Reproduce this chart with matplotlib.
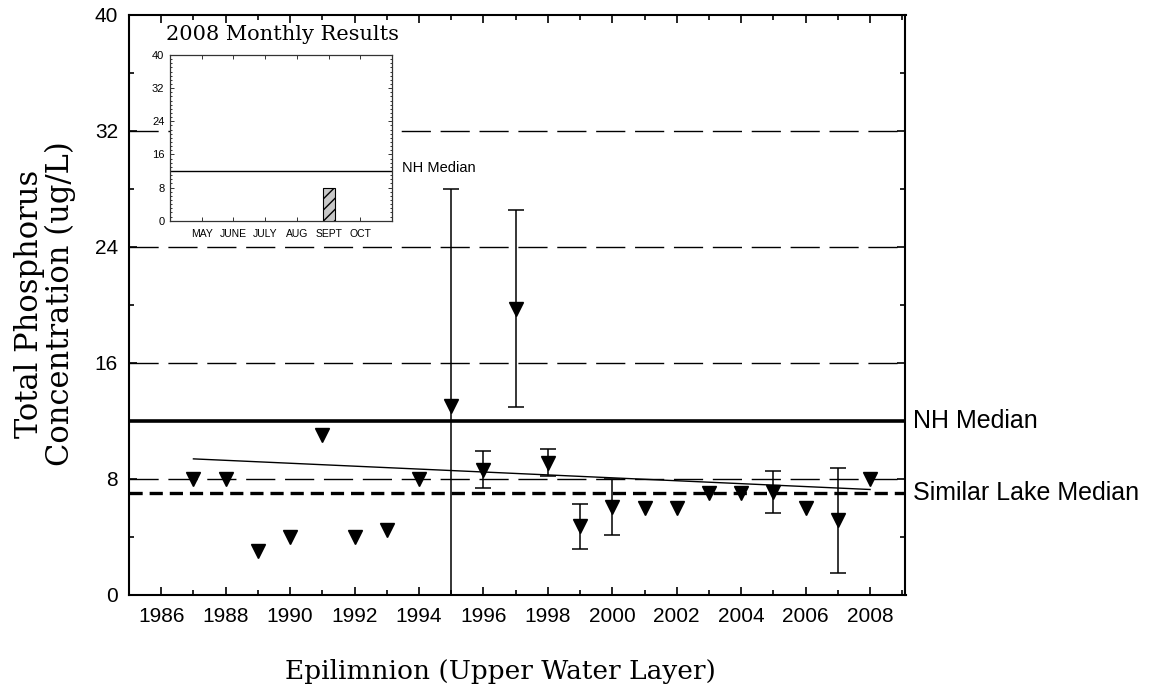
import matplotlib
matplotlib.use("Agg")
import matplotlib.pyplot as plt
from matplotlib.ticker import MultipleLocator
import numpy as np

plt.rcParams['lines.scale_dashes'] = False

# ---- data ----
years = [1987, 1988, 1989, 1990, 1991, 1992, 1993, 1994, 1995, 1996, 1997,
         1998, 1999, 2000, 2001, 2002, 2003, 2004, 2005, 2006, 2007, 2008]
tp = [8.0, 8.0, 3.0, 4.0, 11.0, 4.0, 4.5, 8.0, 13.0, 8.6, 19.7,
      9.1, 4.75, 6.05, 6.0, 6.0, 7.0, 7.0, 7.1, 6.0, 5.15, 8.0]

err_years = [1995, 1996, 1997, 1998, 1999, 2000, 2005, 2007]
err_center = [13.0, 8.6, 19.7, 9.1, 4.75, 6.05, 7.1, 5.15]
err_low = [-2.0, 7.35, 12.95, 8.2, 3.2, 4.1, 5.65, 1.55]
err_high = [28.0, 9.9, 26.55, 10.05, 6.3, 8.0, 8.55, 8.75]

trend_years = [1987, 2008]
trend_vals = [9.38, 7.27]

nh_median = 12.0
similar_median = 7.0
ref_lines = [8, 16, 24, 32]

months = ["MAY", "JUNE", "JULY", "AUG", "SEPT", "OCT"]
month_vals = [np.nan, np.nan, np.nan, np.nan, 8.0, np.nan]

xtick_years = list(range(1986, 2009, 2))
ytick_vals = [0, 8, 16, 24, 32, 40]

# ---- figure ----
fig = plt.figure(figsize=(11.54, 6.90), dpi=100)
W, H = 1154, 690
L, R, T, B = 129, 905.5, 14.5, 595
ax = fig.add_axes([L / W, 1 - B / H, (R - L) / W, (B - T) / H])

ax.set_xlim(1985, 2009.1)
ax.set_ylim(0, 40)

for v in ref_lines:
    ax.axhline(v, color='black', lw=1.0, ls=(0, (21, 7)), zorder=1)
ax.axhline(nh_median, color='black', lw=2.6, zorder=2)
ax.axhline(similar_median, color='black', lw=2.4, ls=(0, (9.5, 5)), zorder=2)

ax.plot(trend_years, trend_vals, color='black', lw=1.0, zorder=3)

yerr = [np.array(err_center) - np.array(err_low),
        np.array(err_high) - np.array(err_center)]
ax.errorbar(err_years, err_center, yerr=yerr, fmt='none', ecolor='black',
            elinewidth=1.1, capsize=5.8, capthick=1.1, zorder=3)
ax.plot(years, tp, ls='none', marker='v', ms=10, color='black', zorder=4)

ax.set_xticks(xtick_years)
ax.set_xticklabels([str(y) for y in xtick_years], fontfamily='Liberation Sans', fontsize=15)
ax.xaxis.set_minor_locator(MultipleLocator(1))
ax.set_yticks(ytick_vals)
ax.set_yticklabels([str(v) for v in ytick_vals], fontfamily='Liberation Sans', fontsize=15)
ax.yaxis.set_minor_locator(MultipleLocator(4))
ax.tick_params(which='both', direction='in', top=True, right=True, width=1.2)
ax.tick_params(which='major', length=6)
ax.tick_params(which='minor', length=3.5)
ax.tick_params(axis='x', which='major', pad=9)
ax.tick_params(axis='y', which='major', pad=8)
for s in ax.spines.values():
    s.set_linewidth(1.5)

ax.text(1.01, (nh_median - 0) / 40, "NH Median", transform=ax.transAxes,
        fontfamily='Liberation Sans', fontsize=18, va='center', ha='left')
ax.text(1.01, (similar_median - 0) / 40, "Similar Lake Median", transform=ax.transAxes,
        fontfamily='Liberation Sans', fontsize=18, va='center', ha='left')

fig.text(500 / W, 1 - 672 / H, "Epilimnion (Upper Water Layer)",
         fontfamily='DejaVu Serif', fontsize=19, ha='center', va='center')
fig.text(45 / W, 1 - 304 / H, "Total Phosphorus\nConcentration (ug/L)",
         fontfamily='DejaVu Serif', fontsize=22, ha='center', va='center',
         rotation=90, linespacing=1.0)

# ---- inset ----
iL, iR, iT, iB = 170, 392, 55, 220.7
ins = fig.add_axes([iL / W, 1 - iB / H, (iR - iL) / W, (iB - iT) / H])
ins.set_xlim(0, 7)
ins.set_ylim(0, 40)
xpos = np.arange(1, len(months) + 1)
ins.bar(xpos, month_vals, width=0.38, color='#c8c8c8', edgecolor='black',
        hatch='///', linewidth=0.8, zorder=3)
ins.axhline(nh_median, color='black', lw=1.0, zorder=2)
ins.set_xticks(xpos)
ins.set_xticklabels(months, fontfamily='Liberation Sans', fontsize=7.5)
ins.set_yticks(ytick_vals)
ins.set_yticklabels([str(v) for v in ytick_vals], fontfamily='Liberation Sans', fontsize=8)
ins.yaxis.set_minor_locator(MultipleLocator(1))
ins.tick_params(which='both', direction='in', top=True, right=True, width=0.7, color='#333333')
ins.tick_params(which='major', length=3)
ins.tick_params(which='minor', length=1.2)
ins.tick_params(axis='x', pad=6)
ins.tick_params(axis='y', pad=4)
for s in ins.spines.values():
    s.set_linewidth(0.9)
    s.set_color('#333333')
fig.text(283 / W, 1 - 34 / H, "2008 Monthly Results", fontfamily='DejaVu Serif',
         fontsize=15, ha='center', va='center')
fig.text(402 / W, 1 - 168 / H, "NH Median", fontfamily='Liberation Sans',
         fontsize=10.5, ha='left', va='center')

fig.savefig("out.png", dpi=100)
